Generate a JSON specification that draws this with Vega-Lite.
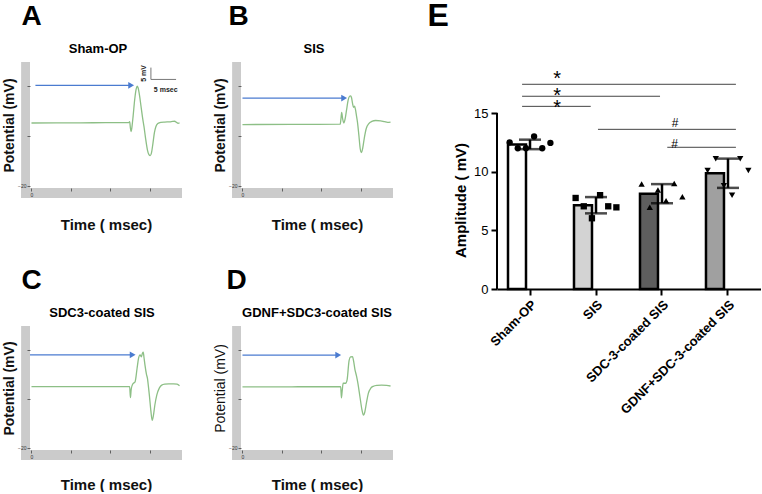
{
  "$schema": "https://vega.github.io/schema/vega-lite/v6.json",
  "background": "white",
  "padding": {"left": 2, "top": 0, "right": 0, "bottom": 0},
  "config": {
    "font": "Liberation Sans",
    "view": {"stroke": null},
    "axis": {"grid": false},
    "title": {"color": "black"}
  },
  "datasets": {
    "traces": [
      {"panel": "A", "t": 0, "v": 0.2}, {"panel": "A", "t": 5, "v": 0.25}, {"panel": "A", "t": 10, "v": 0.25}, {"panel": "A", "t": 15, "v": 0.3}, {"panel": "A", "t": 19.7, "v": 0.3},
      {"panel": "A", "t": 19.9, "v": 0.6}, {"panel": "A", "t": 20.05, "v": -1.5}, {"panel": "A", "t": 20.2, "v": -2.6}, {"panel": "A", "t": 20.35, "v": -1.2}, {"panel": "A", "t": 20.6, "v": 2.5},
      {"panel": "A", "t": 20.9, "v": 7.5}, {"panel": "A", "t": 21.2, "v": 11}, {"panel": "A", "t": 21.4, "v": 12}, {"panel": "A", "t": 21.6, "v": 11.5}, {"panel": "A", "t": 21.9, "v": 9},
      {"panel": "A", "t": 22.2, "v": 5.5}, {"panel": "A", "t": 22.5, "v": 2}, {"panel": "A", "t": 22.8, "v": -1}, {"panel": "A", "t": 23.1, "v": -4.5}, {"panel": "A", "t": 23.5, "v": -8.5},
      {"panel": "A", "t": 23.8, "v": -10}, {"panel": "A", "t": 24.05, "v": -10.3}, {"panel": "A", "t": 24.3, "v": -9.5}, {"panel": "A", "t": 24.6, "v": -6.5}, {"panel": "A", "t": 24.9, "v": -3},
      {"panel": "A", "t": 25.2, "v": -1}, {"panel": "A", "t": 25.6, "v": 0}, {"panel": "A", "t": 26.2, "v": 0.4}, {"panel": "A", "t": 27, "v": 0.5}, {"panel": "A", "t": 28, "v": 0.55},
      {"panel": "A", "t": 28.6, "v": 0.7}, {"panel": "A", "t": 29, "v": 0.75}, {"panel": "A", "t": 29.4, "v": 0.4}, {"panel": "A", "t": 29.7, "v": 0.1}, {"panel": "A", "t": 30, "v": 0.2},

      {"panel": "B", "t": 0, "v": -0.3}, {"panel": "B", "t": 10, "v": -0.25}, {"panel": "B", "t": 19.8, "v": -0.2}, {"panel": "B", "t": 19.95, "v": 1.5}, {"panel": "B", "t": 20.1, "v": 3.6},
      {"panel": "B", "t": 20.3, "v": 1.5}, {"panel": "B", "t": 20.55, "v": 0.2}, {"panel": "B", "t": 20.8, "v": 1.5}, {"panel": "B", "t": 21.1, "v": 4.5}, {"panel": "B", "t": 21.4, "v": 7.5},
      {"panel": "B", "t": 21.7, "v": 8.8}, {"panel": "B", "t": 21.9, "v": 8.9}, {"panel": "B", "t": 22.1, "v": 8.3}, {"panel": "B", "t": 22.3, "v": 6.5}, {"panel": "B", "t": 22.5, "v": 5.2},
      {"panel": "B", "t": 22.7, "v": 5.6}, {"panel": "B", "t": 22.9, "v": 4.5}, {"panel": "B", "t": 23.1, "v": 2.5}, {"panel": "B", "t": 23.3, "v": 0.5}, {"panel": "B", "t": 23.6, "v": -4},
      {"panel": "B", "t": 23.85, "v": -8}, {"panel": "B", "t": 24.1, "v": -9.3}, {"panel": "B", "t": 24.35, "v": -8}, {"panel": "B", "t": 24.7, "v": -4.5}, {"panel": "B", "t": 25.1, "v": -1.5},
      {"panel": "B", "t": 25.6, "v": 0}, {"panel": "B", "t": 26.2, "v": 0.7}, {"panel": "B", "t": 27, "v": 1.0}, {"panel": "B", "t": 28, "v": 0.9}, {"panel": "B", "t": 28.8, "v": 0.6},
      {"panel": "B", "t": 29.4, "v": 0.4}, {"panel": "B", "t": 30, "v": 0.5},

      {"panel": "C", "t": 0, "v": 0}, {"panel": "C", "t": 10, "v": 0}, {"panel": "C", "t": 19.9, "v": 0}, {"panel": "C", "t": 20.05, "v": -3.6}, {"panel": "C", "t": 20.2, "v": -1},
      {"panel": "C", "t": 20.5, "v": 0.8}, {"panel": "C", "t": 21.0, "v": 1.6}, {"panel": "C", "t": 21.4, "v": 6}, {"panel": "C", "t": 21.7, "v": 9.3}, {"panel": "C", "t": 22.0, "v": 10.4},
      {"panel": "C", "t": 22.25, "v": 9.7}, {"panel": "C", "t": 22.5, "v": 11}, {"panel": "C", "t": 22.65, "v": 11.3}, {"panel": "C", "t": 22.8, "v": 9.5}, {"panel": "C", "t": 23.0, "v": 7},
      {"panel": "C", "t": 23.3, "v": 4}, {"panel": "C", "t": 23.5, "v": 2.7}, {"panel": "C", "t": 23.7, "v": 0}, {"panel": "C", "t": 23.9, "v": -3}, {"panel": "C", "t": 24.2, "v": -8},
      {"panel": "C", "t": 24.45, "v": -11}, {"panel": "C", "t": 24.7, "v": -9.5}, {"panel": "C", "t": 25.0, "v": -6}, {"panel": "C", "t": 25.4, "v": -2.7}, {"panel": "C", "t": 25.9, "v": -0.5},
      {"panel": "C", "t": 26.4, "v": 0.5}, {"panel": "C", "t": 27, "v": 0.8}, {"panel": "C", "t": 27.8, "v": 0.9}, {"panel": "C", "t": 28.8, "v": 0.9}, {"panel": "C", "t": 29.5, "v": 0.8},
      {"panel": "C", "t": 30, "v": 0.3},

      {"panel": "D", "t": 0, "v": -0.1}, {"panel": "D", "t": 10, "v": -0.05}, {"panel": "D", "t": 19.9, "v": 0}, {"panel": "D", "t": 20.05, "v": -3.7}, {"panel": "D", "t": 20.2, "v": -1.5},
      {"panel": "D", "t": 20.4, "v": 1.1}, {"panel": "D", "t": 20.9, "v": 1.1}, {"panel": "D", "t": 21.2, "v": 2.2}, {"panel": "D", "t": 21.6, "v": 8.5}, {"panel": "D", "t": 21.9, "v": 9.7},
      {"panel": "D", "t": 22.3, "v": 9.8}, {"panel": "D", "t": 22.5, "v": 8.5}, {"panel": "D", "t": 22.8, "v": 5.5}, {"panel": "D", "t": 23.1, "v": 3.5}, {"panel": "D", "t": 23.4, "v": 1},
      {"panel": "D", "t": 23.8, "v": -3.3}, {"panel": "D", "t": 24.2, "v": -7.5}, {"panel": "D", "t": 24.5, "v": -9.3}, {"panel": "D", "t": 24.8, "v": -8.2}, {"panel": "D", "t": 25.1, "v": -5.5},
      {"panel": "D", "t": 25.5, "v": -2.2}, {"panel": "D", "t": 26, "v": -0.5}, {"panel": "D", "t": 26.5, "v": 0.1}, {"panel": "D", "t": 27.3, "v": 0.4}, {"panel": "D", "t": 28.2, "v": 0.5},
      {"panel": "D", "t": 29.2, "v": 0.4}, {"panel": "D", "t": 30, "v": 0.2}
    ],
    "arrows": [
      {"panel": "A", "t0": 0.8, "t1": 20.0, "th": 20.2, "v": 12.3},
      {"panel": "B", "t0": 0, "t1": 20.4, "th": 20.6, "v": 8.2},
      {"panel": "C", "t0": -0.3, "t1": 20.3, "th": 20.5, "v": 10.4},
      {"panel": "D", "t0": 0, "t1": 19.2, "th": 19.4, "v": 10.3}
    ],
    "scalebar": [
      {"t": 24.2, "t2": 24.2, "v": 18.0, "v2": 14.2},
      {"t": 24.2, "t2": 29.3, "v": 14.2, "v2": 14.2}
    ],
    "scalelabels": [
      {"t": 22.8, "v": 16.1, "label": "5 mV", "dir": "v"},
      {"t": 27.2, "v": 10.9, "label": "5 msec", "dir": "h"}
    ],
    "amp": [
      {"group": "Sham-OP", "rep": 1, "amp": 12.5}, {"group": "Sham-OP", "rep": 2, "amp": 12.0}, {"group": "Sham-OP", "rep": 3, "amp": 12.0},
      {"group": "Sham-OP", "rep": 4, "amp": 13.0}, {"group": "Sham-OP", "rep": 5, "amp": 12.0}, {"group": "Sham-OP", "rep": 6, "amp": 12.45},
      {"group": "SIS", "rep": 1, "amp": 7.76}, {"group": "SIS", "rep": 2, "amp": 7.05}, {"group": "SIS", "rep": 3, "amp": 6.03},
      {"group": "SIS", "rep": 4, "amp": 8.0}, {"group": "SIS", "rep": 5, "amp": 7.05}, {"group": "SIS", "rep": 6, "amp": 6.96},
      {"group": "SDC-3-coated SIS", "rep": 1, "amp": 8.95}, {"group": "SDC-3-coated SIS", "rep": 2, "amp": 6.96}, {"group": "SDC-3-coated SIS", "rep": 3, "amp": 8.44},
      {"group": "SDC-3-coated SIS", "rep": 4, "amp": 7.53}, {"group": "SDC-3-coated SIS", "rep": 5, "amp": 9.0}, {"group": "SDC-3-coated SIS", "rep": 6, "amp": 7.87},
      {"group": "GDNF+SDC-3-coated SIS", "rep": 1, "amp": 10.1}, {"group": "GDNF+SDC-3-coated SIS", "rep": 2, "amp": 11.1}, {"group": "GDNF+SDC-3-coated SIS", "rep": 3, "amp": 8.8},
      {"group": "GDNF+SDC-3-coated SIS", "rep": 4, "amp": 8.0}, {"group": "GDNF+SDC-3-coated SIS", "rep": 5, "amp": 11.1}, {"group": "GDNF+SDC-3-coated SIS", "rep": 6, "amp": 10.1}
    ],
    "sig": [
      {"x": 0.38, "x2": 3.62, "y": 17.45},
      {"x": 0.38, "x2": 2.47, "y": 16.43},
      {"x": 0.38, "x2": 1.42, "y": 15.57},
      {"x": 1.53, "x2": 3.62, "y": 13.61},
      {"x": 2.58, "x2": 3.62, "y": 12.08}
    ],
    "sigtext": [
      {"x": 0.91, "y": 17.35, "s": "*"},
      {"x": 0.91, "y": 15.9, "s": "*"},
      {"x": 0.91, "y": 14.95, "s": "*"},
      {"x": 2.7, "y": 13.77, "s": "#"},
      {"x": 2.69, "y": 12.02, "s": "#"}
    ]
  },
  "hconcat": [
    {
      "vconcat": [
        {
          "hconcat": [
            {
              "title": {"text": "A", "anchor": "start", "frame": "bounds", "fontSize": 28, "fontWeight": "bold", "dx": 19, "offset": 12},
              "vconcat": [
                {
                  "width": 152, "height": 126,
                  "title": {"text": "Sham-OP", "fontSize": 13, "fontWeight": "bold", "offset": 6, "dx": -8},
                  "layer": [
                    {"data": {"values": [{}]}, "mark": {"type": "rect", "color": "#cbcbcb"}, "encoding": {"x": {"datum": -2.1}, "x2": {"datum": -0.3}, "y": {"datum": -23.9}, "y2": {"datum": 19.8}}},
                    {"data": {"values": [{}]}, "mark": {"type": "rule", "color": "#cbcbcb", "strokeWidth": 10}, "encoding": {"x": {"datum": -2.1}, "x2": {"datum": 30.5}, "y": {"datum": -22.3}}},
                    {
                      "data": {"name": "traces"},
                      "transform": [{"filter": "datum.panel === 'A'"}],
                      "mark": {"type": "line", "color": "#8dbf86", "strokeWidth": 1.3, "interpolate": "monotone"},
                      "encoding": {
                        "x": {"field": "t", "type": "quantitative", "scale": {"domain": [-0.3, 30.5], "nice": false, "zero": false},
                          "axis": {"zindex": 1, "domain": false, "values": [0,1,2,3,4,5,6,7,8,9,10,11,12,13,14,15,16,17,18,19,20,21,22,23,24,25,26,27,28,29,30], "labelExpr": "datum.value % 5 === 0 ? datum.label : ''", "labelFontSize": 5, "labelColor": "#333", "labelOverlap": false, "labelBound": false, "labelFlush": false, "tickColor": "#444", "tickSize": 3, "tickWidth": 0.8, "labelPadding": 1, "title": "Time ( msec)", "titleFontSize": 15, "titleFontWeight": "bold", "titlePadding": 20, "titleColor": "#111"}},
                        "y": {"field": "v", "type": "quantitative", "scale": {"domain": [-20.7, 19.8], "nice": false, "zero": false},
                          "axis": {"zindex": 1, "domain": false, "values": [-20,-19,-18,-17,-16,-15,-14,-13,-12,-11,-10,-9,-8,-7,-6,-5,-4,-3,-2,-1,0,1,2,3,4,5,6,7,8,9,10,11,12,13,14,15,16,17,18,19], "labelExpr": "datum.value % 5 === 0 ? datum.label : ''", "labelFontSize": 5, "labelColor": "#333", "labelOverlap": false, "labelBound": false, "labelFlush": false, "tickColor": "#444", "tickSize": 3, "tickWidth": 0.8, "labelPadding": 1, "title": "Potential (mV)", "titleFontSize": 14, "titleFontWeight": "bold", "titlePadding": 1, "titleColor": "#111"}}
                      }
                    },
                    {
                      "data": {"name": "arrows"},
                      "transform": [{"filter": "datum.panel === 'A'"}],
                      "mark": {"type": "rule", "color": "#4a7bd0", "strokeWidth": 1.3},
                      "encoding": {"x": {"field": "t0", "type": "quantitative"}, "x2": {"field": "t1"}, "y": {"field": "v", "type": "quantitative"}}
                    },
                    {
                      "data": {"name": "arrows"},
                      "transform": [{"filter": "datum.panel === 'A'"}],
                      "mark": {"type": "point", "shape": "triangle-right", "filled": true, "color": "#4a7bd0", "size": 45, "opacity": 1},
                      "encoding": {"x": {"field": "th", "type": "quantitative"}, "y": {"field": "v", "type": "quantitative"}}
                    },
                    {
                      "data": {"name": "scalebar"},
                      "mark": {"type": "rule", "color": "#777", "strokeWidth": 1},
                      "encoding": {"x": {"field": "t", "type": "quantitative"}, "x2": {"field": "t2"}, "y": {"field": "v", "type": "quantitative"}, "y2": {"field": "v2"}}
                    },
                    {
                      "data": {"name": "scalelabels"},
                      "transform": [{"filter": "datum.dir === 'v'"}],
                      "mark": {"type": "text", "angle": 270, "fontSize": 7, "fontWeight": "bold", "color": "#222"},
                      "encoding": {"x": {"field": "t", "type": "quantitative"}, "y": {"field": "v", "type": "quantitative"}, "text": {"field": "label"}}
                    },
                    {
                      "data": {"name": "scalelabels"},
                      "transform": [{"filter": "datum.dir === 'h'"}],
                      "mark": {"type": "text", "fontSize": 7, "fontWeight": "bold", "color": "#222"},
                      "encoding": {"x": {"field": "t", "type": "quantitative"}, "y": {"field": "v", "type": "quantitative"}, "text": {"field": "label"}}
                    }
                  ]
                }
              ]
            },
            {
              "title": {"text": "B", "anchor": "start", "frame": "bounds", "fontSize": 28, "fontWeight": "bold", "dx": 15, "offset": 12},
              "vconcat": [
                {
                  "width": 152, "height": 126,
                  "title": {"text": "SIS", "fontSize": 13, "fontWeight": "bold", "offset": 6, "dx": -3},
                  "layer": [
                    {"data": {"values": [{}]}, "mark": {"type": "rect", "color": "#cbcbcb"}, "encoding": {"x": {"datum": -2.1}, "x2": {"datum": -0.3}, "y": {"datum": -23.9}, "y2": {"datum": 19.8}}},
                    {"data": {"values": [{}]}, "mark": {"type": "rule", "color": "#cbcbcb", "strokeWidth": 10}, "encoding": {"x": {"datum": -2.1}, "x2": {"datum": 30.5}, "y": {"datum": -22.3}}},
                    {
                      "data": {"name": "traces"},
                      "transform": [{"filter": "datum.panel === 'B'"}],
                      "mark": {"type": "line", "color": "#8dbf86", "strokeWidth": 1.3, "interpolate": "monotone"},
                      "encoding": {
                        "x": {"field": "t", "type": "quantitative", "scale": {"domain": [-0.3, 30.5], "nice": false, "zero": false},
                          "axis": {"zindex": 1, "domain": false, "values": [0,1,2,3,4,5,6,7,8,9,10,11,12,13,14,15,16,17,18,19,20,21,22,23,24,25,26,27,28,29,30], "labelExpr": "datum.value % 5 === 0 ? datum.label : ''", "labelFontSize": 5, "labelColor": "#333", "labelOverlap": false, "labelBound": false, "labelFlush": false, "tickColor": "#444", "tickSize": 3, "tickWidth": 0.8, "labelPadding": 1, "title": "Time ( msec)", "titleFontSize": 15, "titleFontWeight": "bold", "titlePadding": 20, "titleColor": "#111"}},
                        "y": {"field": "v", "type": "quantitative", "scale": {"domain": [-20.7, 19.8], "nice": false, "zero": false},
                          "axis": {"zindex": 1, "domain": false, "values": [-20,-19,-18,-17,-16,-15,-14,-13,-12,-11,-10,-9,-8,-7,-6,-5,-4,-3,-2,-1,0,1,2,3,4,5,6,7,8,9,10,11,12,13,14,15,16,17,18,19], "labelExpr": "datum.value % 5 === 0 ? datum.label : ''", "labelFontSize": 5, "labelColor": "#333", "labelOverlap": false, "labelBound": false, "labelFlush": false, "tickColor": "#444", "tickSize": 3, "tickWidth": 0.8, "labelPadding": 1, "title": "Potential (mV)", "titleFontSize": 14, "titleFontWeight": "bold", "titlePadding": 1, "titleColor": "#111"}}
                      }
                    },
                    {
                      "data": {"name": "arrows"},
                      "transform": [{"filter": "datum.panel === 'B'"}],
                      "mark": {"type": "rule", "color": "#4a7bd0", "strokeWidth": 1.3},
                      "encoding": {"x": {"field": "t0", "type": "quantitative"}, "x2": {"field": "t1"}, "y": {"field": "v", "type": "quantitative"}}
                    },
                    {
                      "data": {"name": "arrows"},
                      "transform": [{"filter": "datum.panel === 'B'"}],
                      "mark": {"type": "point", "shape": "triangle-right", "filled": true, "color": "#4a7bd0", "size": 45, "opacity": 1},
                      "encoding": {"x": {"field": "th", "type": "quantitative"}, "y": {"field": "v", "type": "quantitative"}}
                    }
                  ]
                }
              ]
            }
          ],
          "spacing": 26
        },
        {
          "hconcat": [
            {
              "title": {"text": "C", "anchor": "start", "frame": "bounds", "fontSize": 28, "fontWeight": "bold", "dx": 19, "offset": 12},
              "vconcat": [
                {
                  "width": 152, "height": 124,
                  "title": {"text": "SDC3-coated SIS", "fontSize": 13, "fontWeight": "bold", "offset": 6, "dx": -4},
                  "layer": [
                    {"data": {"values": [{}]}, "mark": {"type": "rect", "color": "#cbcbcb"}, "encoding": {"x": {"datum": -2.1}, "x2": {"datum": -0.3}, "y": {"datum": -23.9}, "y2": {"datum": 19.8}}},
                    {"data": {"values": [{}]}, "mark": {"type": "rule", "color": "#cbcbcb", "strokeWidth": 10}, "encoding": {"x": {"datum": -2.1}, "x2": {"datum": 30.5}, "y": {"datum": -22.3}}},
                    {
                      "data": {"name": "traces"},
                      "transform": [{"filter": "datum.panel === 'C'"}],
                      "mark": {"type": "line", "color": "#8dbf86", "strokeWidth": 1.3, "interpolate": "monotone"},
                      "encoding": {
                        "x": {"field": "t", "type": "quantitative", "scale": {"domain": [-0.3, 30.5], "nice": false, "zero": false},
                          "axis": {"zindex": 1, "domain": false, "values": [0,1,2,3,4,5,6,7,8,9,10,11,12,13,14,15,16,17,18,19,20,21,22,23,24,25,26,27,28,29,30], "labelExpr": "datum.value % 5 === 0 ? datum.label : ''", "labelFontSize": 5, "labelColor": "#333", "labelOverlap": false, "labelBound": false, "labelFlush": false, "tickColor": "#444", "tickSize": 3, "tickWidth": 0.8, "labelPadding": 1, "title": "Time ( msec)", "titleFontSize": 15, "titleFontWeight": "bold", "titlePadding": 18, "titleColor": "#111"}},
                        "y": {"field": "v", "type": "quantitative", "scale": {"domain": [-20.7, 19.8], "nice": false, "zero": false},
                          "axis": {"zindex": 1, "domain": false, "values": [-20,-19,-18,-17,-16,-15,-14,-13,-12,-11,-10,-9,-8,-7,-6,-5,-4,-3,-2,-1,0,1,2,3,4,5,6,7,8,9,10,11,12,13,14,15,16,17,18,19], "labelExpr": "datum.value % 5 === 0 ? datum.label : ''", "labelFontSize": 5, "labelColor": "#333", "labelOverlap": false, "labelBound": false, "labelFlush": false, "tickColor": "#444", "tickSize": 3, "tickWidth": 0.8, "labelPadding": 1, "title": "Potential (mV)", "titleFontSize": 14, "titleFontWeight": "bold", "titlePadding": 1, "titleColor": "#111"}}
                      }
                    },
                    {
                      "data": {"name": "arrows"},
                      "transform": [{"filter": "datum.panel === 'C'"}],
                      "mark": {"type": "rule", "color": "#4a7bd0", "strokeWidth": 1.3},
                      "encoding": {"x": {"field": "t0", "type": "quantitative"}, "x2": {"field": "t1"}, "y": {"field": "v", "type": "quantitative"}}
                    },
                    {
                      "data": {"name": "arrows"},
                      "transform": [{"filter": "datum.panel === 'C'"}],
                      "mark": {"type": "point", "shape": "triangle-right", "filled": true, "color": "#4a7bd0", "size": 45, "opacity": 1},
                      "encoding": {"x": {"field": "th", "type": "quantitative"}, "y": {"field": "v", "type": "quantitative"}}
                    }
                  ]
                }
              ]
            },
            {
              "title": {"text": "D", "anchor": "start", "frame": "bounds", "fontSize": 28, "fontWeight": "bold", "dx": 13, "offset": 12},
              "vconcat": [
                {
                  "width": 152, "height": 124,
                  "title": {"text": "GDNF+SDC3-coated SIS", "fontSize": 13, "fontWeight": "bold", "offset": 6, "dx": 0},
                  "layer": [
                    {"data": {"values": [{}]}, "mark": {"type": "rect", "color": "#cbcbcb"}, "encoding": {"x": {"datum": -2.1}, "x2": {"datum": -0.3}, "y": {"datum": -23.9}, "y2": {"datum": 19.8}}},
                    {"data": {"values": [{}]}, "mark": {"type": "rule", "color": "#cbcbcb", "strokeWidth": 10}, "encoding": {"x": {"datum": -2.1}, "x2": {"datum": 30.5}, "y": {"datum": -22.3}}},
                    {
                      "data": {"name": "traces"},
                      "transform": [{"filter": "datum.panel === 'D'"}],
                      "mark": {"type": "line", "color": "#8dbf86", "strokeWidth": 1.3, "interpolate": "monotone"},
                      "encoding": {
                        "x": {"field": "t", "type": "quantitative", "scale": {"domain": [-0.3, 30.5], "nice": false, "zero": false},
                          "axis": {"zindex": 1, "domain": false, "values": [0,1,2,3,4,5,6,7,8,9,10,11,12,13,14,15,16,17,18,19,20,21,22,23,24,25,26,27,28,29,30], "labelExpr": "datum.value % 5 === 0 ? datum.label : ''", "labelFontSize": 5, "labelColor": "#333", "labelOverlap": false, "labelBound": false, "labelFlush": false, "tickColor": "#444", "tickSize": 3, "tickWidth": 0.8, "labelPadding": 1, "title": "Time ( msec)", "titleFontSize": 15, "titleFontWeight": "bold", "titlePadding": 18, "titleColor": "#111"}},
                        "y": {"field": "v", "type": "quantitative", "scale": {"domain": [-20.7, 19.8], "nice": false, "zero": false},
                          "axis": {"zindex": 1, "domain": false, "values": [-20,-19,-18,-17,-16,-15,-14,-13,-12,-11,-10,-9,-8,-7,-6,-5,-4,-3,-2,-1,0,1,2,3,4,5,6,7,8,9,10,11,12,13,14,15,16,17,18,19], "labelExpr": "datum.value % 5 === 0 ? datum.label : ''", "labelFontSize": 5, "labelColor": "#333", "labelOverlap": false, "labelBound": false, "labelFlush": false, "tickColor": "#444", "tickSize": 3, "tickWidth": 0.8, "labelPadding": 1, "title": "Potential (mV)", "titleFontSize": 14, "titleFontWeight": "normal", "titlePadding": 1, "titleColor": "#111"}}
                      }
                    },
                    {
                      "data": {"name": "arrows"},
                      "transform": [{"filter": "datum.panel === 'D'"}],
                      "mark": {"type": "rule", "color": "#4a7bd0", "strokeWidth": 1.3},
                      "encoding": {"x": {"field": "t0", "type": "quantitative"}, "x2": {"field": "t1"}, "y": {"field": "v", "type": "quantitative"}}
                    },
                    {
                      "data": {"name": "arrows"},
                      "transform": [{"filter": "datum.panel === 'D'"}],
                      "mark": {"type": "point", "shape": "triangle-right", "filled": true, "color": "#4a7bd0", "size": 45, "opacity": 1},
                      "encoding": {"x": {"field": "th", "type": "quantitative"}, "y": {"field": "v", "type": "quantitative"}}
                    }
                  ]
                }
              ]
            }
          ],
          "spacing": 26
        }
      ],
      "spacing": 35
    },
    {
      "title": {"text": "E", "anchor": "start", "frame": "bounds", "fontSize": 32, "fontWeight": "bold", "dx": -26, "offset": 29},
      "width": 264, "height": 227,
      "layer": [
        {
          "data": {"name": "amp"},
          "layer": [
            {
              "mark": {"type": "bar", "stroke": "black", "strokeWidth": 2.5},
              "encoding": {
                "x": {"field": "group", "type": "nominal", "sort": ["Sham-OP", "SIS", "SDC-3-coated SIS", "GDNF+SDC-3-coated SIS"],
                  "scale": {"paddingInner": 0.333, "paddingOuter": 0.1667},
                  "axis": {"labelAngle": -45, "labelFontSize": 13, "labelFontWeight": "bold", "labelColor": "black", "tickSize": 6, "tickWidth": 2, "tickColor": "black", "domainWidth": 2, "domainColor": "black", "labelPadding": 3, "title": null}},
                "y": {"aggregate": "mean", "field": "amp", "type": "quantitative", "scale": {"domain": [0, 19.35], "nice": false},
                  "axis": {"values": [0, 5, 10, 15], "domain": false, "tickSize": 6, "tickWidth": 2, "tickColor": "black", "labelFontSize": 13, "labelColor": "black", "labelPadding": 3, "title": "Amplitude ( mV)", "titleFontSize": 15, "titleFontWeight": "bold", "titleColor": "black", "titlePadding": 5, "titleY": 138}},
                "fill": {"field": "group", "type": "nominal", "scale": {"domain": ["Sham-OP", "SIS", "SDC-3-coated SIS", "GDNF+SDC-3-coated SIS"], "range": ["#ffffff", "#d3d3d3", "#5e5e5e", "#a0a0a0"]}, "legend": null}
              }
            },
            {
              "mark": {"type": "errorbar", "extent": "stdev", "ticks": true, "thickness": 2.5, "size": 22, "color": "black"},
              "encoding": {
                "x": {"field": "group", "type": "nominal", "sort": ["Sham-OP", "SIS", "SDC-3-coated SIS", "GDNF+SDC-3-coated SIS"]},
                "y": {"field": "amp", "type": "quantitative", "scale": {"domain": [0, 19.35], "nice": false}, "title": "Amplitude ( mV)"}
              }
            },
            {
              "mark": {"type": "point", "filled": true, "color": "black", "size": 40, "opacity": 1},
              "encoding": {
                "x": {"field": "group", "type": "nominal", "sort": ["Sham-OP", "SIS", "SDC-3-coated SIS", "GDNF+SDC-3-coated SIS"]},
                "xOffset": {"field": "rep", "type": "nominal", "scale": {"paddingOuter": 0.2}},
                "y": {"field": "amp", "type": "quantitative", "scale": {"domain": [0, 19.35], "nice": false}, "title": "Amplitude ( mV)"},
                "shape": {"field": "group", "type": "nominal", "scale": {"domain": ["Sham-OP", "SIS", "SDC-3-coated SIS", "GDNF+SDC-3-coated SIS"], "range": ["circle", "square", "triangle-up", "triangle-down"]}, "legend": null}
              }
            }
          ]
        },
        {
          "layer": [
            {
              "data": {"name": "sig"},
              "mark": {"type": "rule", "color": "#444", "strokeWidth": 1},
              "encoding": {
                "x": {"field": "x", "type": "quantitative", "scale": {"domain": [0, 4], "nice": false, "zero": false}, "axis": null},
                "x2": {"field": "x2"},
                "y": {"field": "y", "type": "quantitative", "scale": {"domain": [0, 19.35], "nice": false}, "title": "Amplitude ( mV)"}
              }
            },
            {
              "data": {"values": [{}]},
              "mark": {"type": "rule", "color": "black", "strokeWidth": 2},
              "encoding": {"x": {"datum": 0}, "y": {"datum": 0}, "y2": {"datum": 15}}
            },
            {
              "data": {"name": "sigtext"},
              "transform": [{"filter": "datum.s === '*'"}],
              "mark": {"type": "text", "fontSize": 20, "baseline": "alphabetic", "color": "black"},
              "encoding": {
                "x": {"field": "x", "type": "quantitative"},
                "y": {"field": "y", "type": "quantitative", "scale": {"domain": [0, 19.35], "nice": false}, "title": "Amplitude ( mV)"},
                "text": {"field": "s"}
              }
            },
            {
              "data": {"name": "sigtext"},
              "transform": [{"filter": "datum.s === '#'"}],
              "mark": {"type": "text", "fontSize": 12, "baseline": "alphabetic", "color": "black"},
              "encoding": {
                "x": {"field": "x", "type": "quantitative"},
                "y": {"field": "y", "type": "quantitative", "scale": {"domain": [0, 19.35], "nice": false}, "title": "Amplitude ( mV)"},
                "text": {"field": "s"}
              }
            }
          ]
        }
      ],
      "resolve": {"scale": {"x": "independent"}}
    }
  ],
  "spacing": 29
}
